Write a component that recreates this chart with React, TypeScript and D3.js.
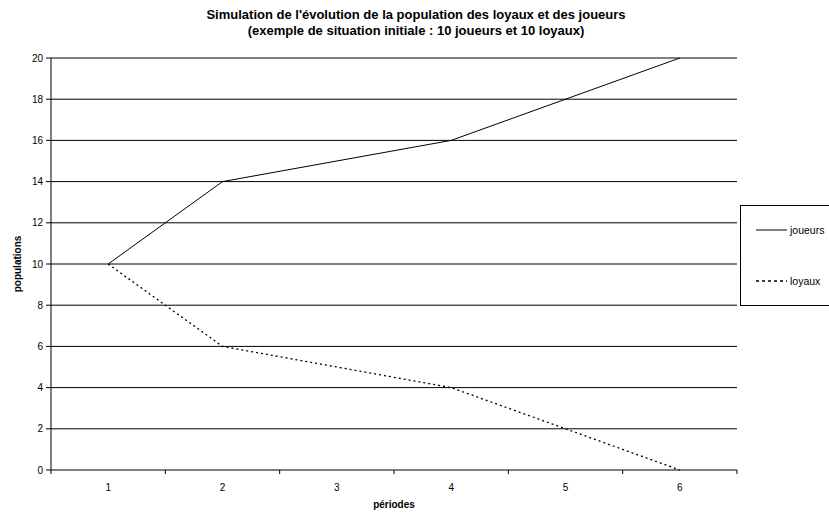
import React from "react";
import * as d3 from "d3";

const periods = ["1", "2", "3", "4", "5", "6"];
const joueurs: (number | null)[] = [10, 14, null, 16, null, 20];
const loyaux: (number | null)[] = [10, 6, null, 4, null, 0];
const yTicks = [0, 2, 4, 6, 8, 10, 12, 14, 16, 18, 20];
const titleLines = [
  "Simulation de l'évolution de la population des loyaux et des joueurs",
  "(exemple de situation initiale : 10 joueurs et 10 loyaux)",
];
const seriesNames = ["joueurs", "loyaux"];

export default function App() {
  const W = 829, H = 512;
  const left = 51, right = 737, top = 58, bottom = 470;
  const x = d3.scaleBand().domain(periods).range([left, right]);
  const y = d3.scaleLinear().domain([0, 20]).range([bottom, top]);
  const cx = (p: string) => (x(p) as number) + x.bandwidth() / 2;
  const mk = (vals: (number | null)[]) => {
    const pts = periods
      .map((p, i) => ({ p, v: vals[i] }))
      .filter((d) => d.v !== null) as { p: string; v: number }[];
    return d3.line<{ p: string; v: number }>().x((d) => cx(d.p)).y((d) => y(d.v))(pts) || "";
  };
  const font = "'Liberation Sans', Arial, sans-serif";
  const tickEdges = [...periods.map((p) => x(p) as number), right];
  const legendY = [230, 281];
  return (
    <svg width={W} height={H} style={{ position: "absolute", left: 0, top: 0, fontFamily: font }}>
      <rect x={0} y={0} width={W} height={H} fill="#fff" />
      {titleLines.map((t, i) => (
        <text key={i} x={416} y={19 + i * 16} textAnchor="middle" fontSize={13} fontWeight="bold" fill="#000">
          {t}
        </text>
      ))}
      {yTicks.map((t) => (
        <g key={t}>
          {t > 0 && <line x1={left} x2={right} y1={y(t)} y2={y(t)} stroke="#000" strokeWidth={1} />}
          <line x1={left - 5} x2={left} y1={y(t)} y2={y(t)} stroke="#000" />
          <text x={left - 8} y={y(t) + 3.5} textAnchor="end" fontSize={10} fill="#000">
            {t}
          </text>
        </g>
      ))}
      <line x1={left} x2={left} y1={top} y2={bottom} stroke="#000" />
      <line x1={left} x2={right} y1={bottom} y2={bottom} stroke="#000" />
      {tickEdges.map((e, i) => (
        <line key={i} x1={e} x2={e} y1={bottom} y2={bottom + 4} stroke="#000" />
      ))}
      {periods.map((p) => (
        <text key={p} x={cx(p)} y={491} textAnchor="middle" fontSize={10} fill="#000">
          {p}
        </text>
      ))}
      <text x={394} y={508} textAnchor="middle" fontSize={10} fontWeight="bold" fill="#000">
        périodes
      </text>
      <text
        transform={`translate(21,${(top + bottom) / 2}) rotate(-90)`}
        textAnchor="middle"
        fontSize={10}
        fontWeight="bold"
        fill="#000"
      >
        populations
      </text>
      <path d={mk(joueurs)} fill="none" stroke="#000" strokeWidth={1} />
      <path d={mk(loyaux)} fill="none" stroke="#000" strokeWidth={1.3} strokeDasharray="2,3" />
      <rect x={740.5} y={205.5} width={100} height={100} fill="#fff" stroke="#000" />
      {seriesNames.map((s, i) => (
        <g key={s}>
          <line
            x1={756}
            x2={787}
            y1={legendY[i]}
            y2={legendY[i]}
            stroke="#000"
            strokeWidth={i === 1 ? 1.5 : 1}
            strokeDasharray={i === 1 ? "3,3" : undefined}
          />
          <text x={790} y={legendY[i] + 3.5} fontSize={10.5} fill="#000">
            {s}
          </text>
        </g>
      ))}
    </svg>
  );
}
